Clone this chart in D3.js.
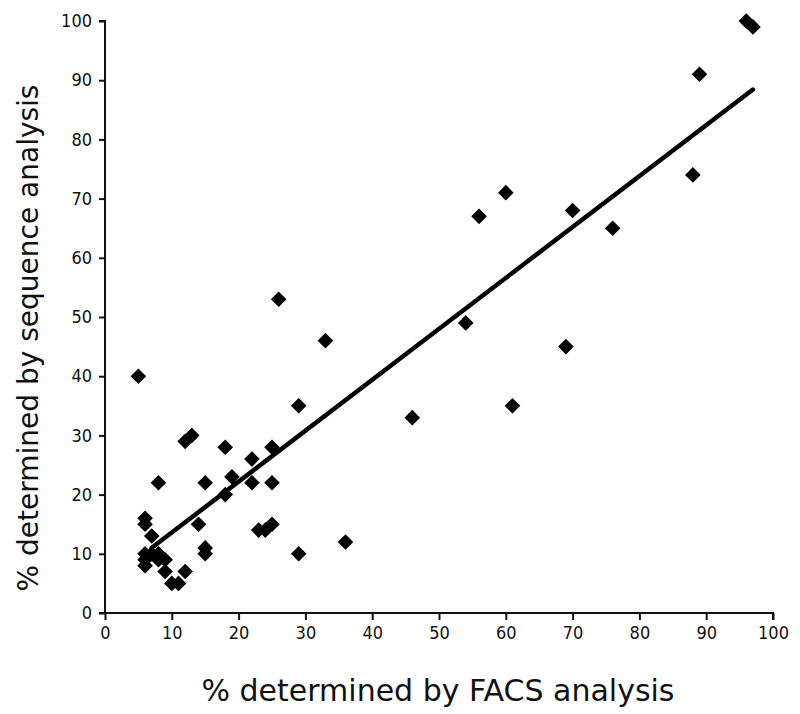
<!DOCTYPE html>
<html>
<head>
<meta charset="utf-8">
<script src="https://cdn.jsdelivr.net/npm/d3@7"></script>
<style>
  html, body { margin: 0; padding: 0; background: #fff; }
  svg { display: block; }
  text { font-family: "DejaVu Sans", Verdana, sans-serif; fill: #111; }
</style>
</head>
<body>
<svg id="chart" width="800" height="714"></svg>
<script>
// ---- data ----
const facs = [5, 29, 12, 13, 18, 25, 22, 19, 8, 15, 22, 25, 18, 6, 6, 14, 23, 24, 25, 7,
              15, 15, 36, 29, 6, 6, 6, 7, 8, 8, 9, 9, 10, 11, 12,
              26, 33, 46, 54, 56, 60, 61, 69, 70, 76, 88, 89, 96, 97];
const sequence = [40, 35, 29, 30, 28, 28, 26, 23, 22, 22, 22, 22, 20, 16, 15, 15, 14, 14, 15, 13,
                  11, 10, 12, 10, 10, 9, 8, 10, 10, 9, 9, 7, 5, 5, 7,
                  53, 46, 33, 49, 67, 71, 35, 45, 68, 65, 74, 91, 100, 99];
const xTicks = [0, 10, 20, 30, 40, 50, 60, 70, 80, 90, 100];
const yTicks = [0, 10, 20, 30, 40, 50, 60, 70, 80, 90, 100];
const trendSlope = 0.86;
const trendIntercept = 5.0;
const trendRange = [7, 97];
const xTitle = "% determined by FACS analysis";
const yTitle = "% determined by sequence analysis";

// ---- layout ----
const svg = d3.select("#chart");
const x = d3.scaleLinear().domain([0, 100]).range([105, 773]);
const y = d3.scaleLinear().domain([0, 100]).range([613, 21]);

// axes
const xAxis = svg.append("g")
  .attr("transform", `translate(0,${y(0)})`)
  .call(d3.axisBottom(x).tickValues(xTicks).tickSize(7).tickPadding(6).tickSizeOuter(0));
const yAxis = svg.append("g")
  .attr("transform", `translate(${x(0)},0)`)
  .call(d3.axisLeft(y).tickValues(yTicks).tickSize(6).tickPadding(7).tickSizeOuter(0));

[xAxis, yAxis].forEach(g => {
  g.select(".domain").attr("stroke", "#111").attr("stroke-width", 2);
  g.selectAll(".tick line").attr("stroke", "#111").attr("stroke-width", 2);
  g.selectAll(".tick text").style("font-size", "18px").attr("fill", "#222")
    .style("font-family", "'DejaVu Sans Condensed', 'DejaVu Sans', sans-serif");
});
// extend axis lines to the corner
xAxis.select(".domain").attr("d", `M${x(0) - 6},0H${x(100)}V7`);
yAxis.select(".domain").attr("d", `M0,${y(0)}V${y(100)}H-6`);

// trend line
svg.append("line")
  .attr("x1", x(trendRange[0]))
  .attr("y1", y(trendSlope * trendRange[0] + trendIntercept))
  .attr("x2", x(trendRange[1]))
  .attr("y2", y(trendSlope * trendRange[1] + trendIntercept))
  .attr("stroke", "#000")
  .attr("stroke-width", 4.5)
  .attr("stroke-linecap", "round");

// points
const sym = d3.symbol().type(d3.symbolSquare).size(122);
svg.append("g").selectAll("path")
  .data(facs.map((v, i) => [v, sequence[i]]))
  .join("path")
  .attr("d", sym)
  .attr("transform", d => `translate(${x(d[0])},${y(d[1])}) rotate(45)`)
  .attr("fill", "#000");

// titles
svg.append("text")
  .attr("x", 438)
  .attr("y", 701)
  .attr("text-anchor", "middle")
  .style("font-size", "30px")
  .text(xTitle);

svg.append("text")
  .attr("transform", `translate(38,338) rotate(-90)`)
  .attr("text-anchor", "middle")
  .style("font-size", "28px")
  .text(yTitle);
</script>
</body>
</html>
